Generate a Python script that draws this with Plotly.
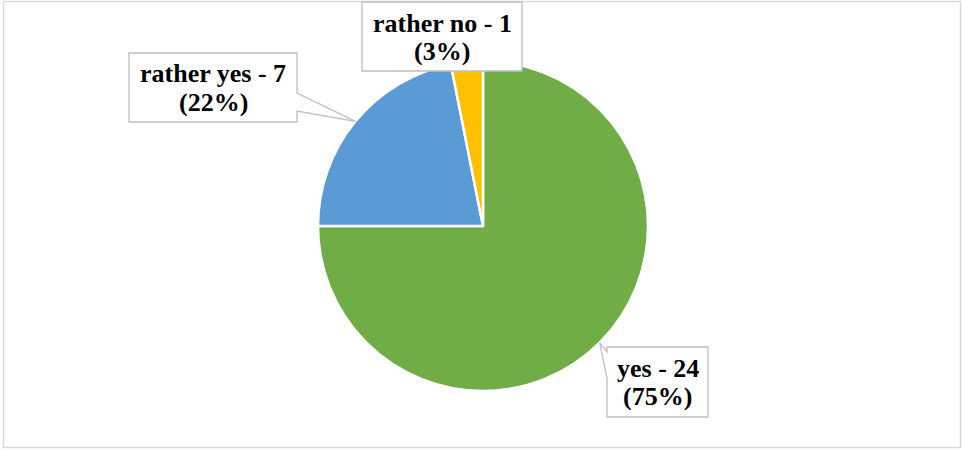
import math
import plotly.graph_objects as go

# Survey answers
labels = ["yes", "rather yes", "rather no"]
counts = [24, 7, 1]
colors = ["#70AD47", "#5B9BD5", "#FFC000"]

W, H = 962, 450
CX, CY, R = 483, 226, 165  # pie centre / radius in pixels
FONT = "Liberation Serif"


def px(x):
    return x / W


def py(y):
    return 1 - y / H


total = sum(counts)
pct = [round(100 * c / total) for c in counts]

fig = go.Figure()
fig.add_trace(go.Pie(
    labels=labels,
    values=counts,
    sort=False,
    direction="clockwise",
    rotation=0,
    marker=dict(colors=colors, line=dict(color="white", width=2.5)),
    textinfo="none",
    hoverinfo="label+value+percent",
    showlegend=False,
    domain=dict(x=[px(CX - R), px(CX + R)], y=[py(CY + R), py(CY - R)]),
))


def slice_mid_point(i):
    """Point on the rim at the middle of slice i (clockwise from 12 o'clock)."""
    cum = sum(counts[:i]) + counts[i] / 2
    theta = 2 * math.pi * cum / total
    return CX + R * math.sin(theta), CY - R * math.cos(theta)


def path(points):
    return "M " + " L ".join(f"{px(x):.5f},{py(y):.5f}" for x, y in points) + " Z"


# Callout boxes: (box left, top, right, bottom, tail side, tail span)
callouts = {
    0: dict(box=(607, 347, 708, 417), tail=("left", 352, 378)),
    1: dict(box=(129, 53, 297, 122), tail=("right", 93, 111)),
    2: dict(box=(362, 2, 522, 71), tail=None),
}

shapes = []
annotations = []
for i, spec in callouts.items():
    x0, y0, x1, y1 = spec["box"]
    tx, ty = slice_mid_point(i)
    tail = spec["tail"]
    if tail is None:
        pts = [(x0, y0), (x1, y0), (x1, y1), (x0, y1)]
    elif tail[0] == "right":
        pts = [(x0, y0), (x1, y0), (x1, tail[1]), (tx, ty), (x1, tail[2]), (x1, y1), (x0, y1)]
    else:
        pts = [(x0, y0), (x1, y0), (x1, y1), (x0, y1), (x0, tail[2]), (tx, ty), (x0, tail[1])]
    shapes.append(dict(type="path", xref="paper", yref="paper", path=path(pts),
                       fillcolor="white", line=dict(color="#BFBFBF", width=1.3), layer="above"))
    cx = (x0 + x1) / 2
    line1 = f"{labels[i]} - {counts[i]}"
    line2 = f"({pct[i]}%)"
    for text, yy in ((line1, y0 + 21), (line2, y0 + 49.5)):
        annotations.append(dict(
            x=px(cx), y=py(yy), xref="paper", yref="paper",
            text=f"<b>{text}</b>", showarrow=False,
            xanchor="center", yanchor="middle", height=27, borderpad=0,
            font=dict(family=FONT, size=26, color="black"),
        ))

# Chart area frame
shapes.insert(0, dict(type="rect", xref="paper", yref="paper",
                      x0=px(3.5), x1=px(960.5), y0=py(447.5), y1=py(1.5),
                      line=dict(color="#D9D9D9", width=1.5), layer="above"))

fig.update_layout(
    width=W, height=H,
    margin=dict(l=0, r=0, t=0, b=0),
    paper_bgcolor="white",
    plot_bgcolor="white",
    shapes=shapes,
    annotations=annotations,
)

fig.write_html("out.html")
